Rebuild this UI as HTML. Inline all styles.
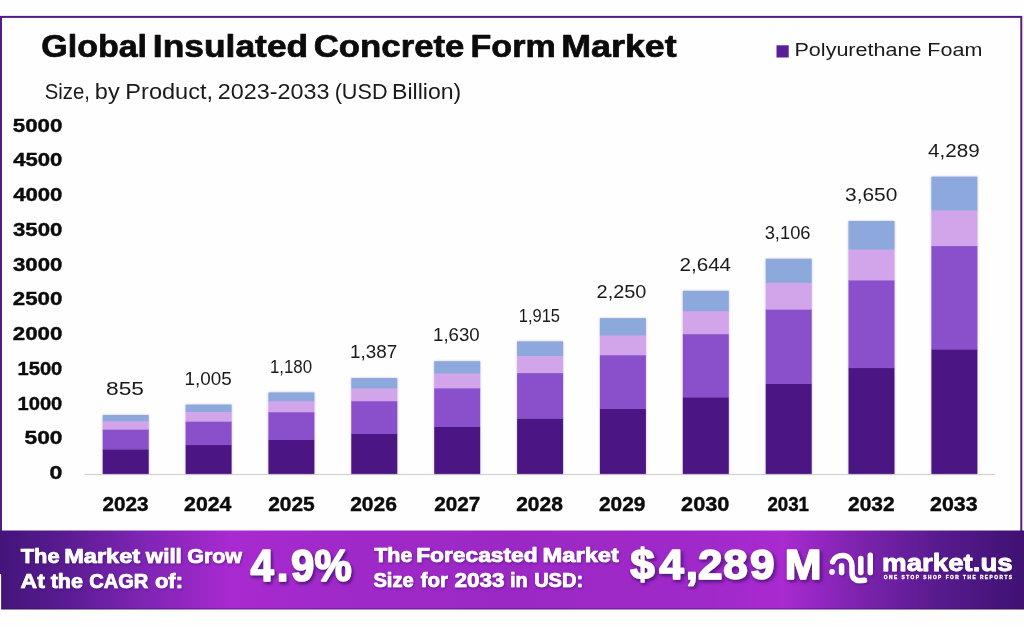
<!DOCTYPE html>
<html><head><meta charset="utf-8"><title>Global Insulated Concrete Form Market</title>
<style>
html,body{margin:0;padding:0;background:#fefefe;}
body{width:1024px;height:627px;overflow:hidden;}
svg{display:block;font-family:"Liberation Sans",sans-serif;}
text{white-space:pre;font-kerning:none;}
</style></head><body>
<svg width="1024" height="627" viewBox="0 0 1024 627">
<defs>
<linearGradient id="bg" x1="0" y1="0" x2="1" y2="0">
<stop offset="0" stop-color="#43147a"/>
<stop offset="0.06" stop-color="#581b90"/>
<stop offset="0.13" stop-color="#7a24b0"/>
<stop offset="0.225" stop-color="#a82ad0"/>
<stop offset="0.33" stop-color="#a029c9"/>
<stop offset="0.5" stop-color="#9b28c4"/>
<stop offset="0.68" stop-color="#a029c9"/>
<stop offset="0.765" stop-color="#a82ad0"/>
<stop offset="0.84" stop-color="#7c23ae"/>
<stop offset="0.92" stop-color="#561a8c"/>
<stop offset="1" stop-color="#3f1272"/>
</linearGradient>
<filter id="bsh" x="-5%" y="-5%" width="110%" height="110%"><feDropShadow dx="0" dy="0" stdDeviation="1.2" flood-color="#5a4a80" flood-opacity="0.35"/></filter>
<filter id="tsh" x="0" y="525" width="1024" height="90" filterUnits="userSpaceOnUse"><feDropShadow dx="0.8" dy="1.2" stdDeviation="1" flood-color="#3a0a66" flood-opacity="0.55"/></filter>
<filter id="tsh2" x="0" y="525" width="1024" height="90" filterUnits="userSpaceOnUse"><feDropShadow dx="1.6" dy="2.2" stdDeviation="1.8" flood-color="#3a0a66" flood-opacity="0.85"/></filter>
</defs>
<rect x="0" y="0" width="1024" height="627" fill="#fefefe"/>
<rect x="1" y="16.9" width="1020.3" height="560" fill="none" stroke="#521c84" stroke-width="2"/>
<text y="56.5" font-size="31" font-weight="700" fill="#0b0b0b" stroke="#0b0b0b" stroke-width="0.7" stroke-linejoin="round"><tspan x="41.26" textLength="105.80" lengthAdjust="spacingAndGlyphs">Global</tspan> <tspan x="152.88" textLength="155.30" lengthAdjust="spacingAndGlyphs">Insulated</tspan> <tspan x="313.72" textLength="150.71" lengthAdjust="spacingAndGlyphs">Concrete</tspan> <tspan x="470.57" textLength="85.09" lengthAdjust="spacingAndGlyphs">Form</tspan> <tspan x="561.25" textLength="115.43" lengthAdjust="spacingAndGlyphs">Market</tspan></text>
<text y="99.0" font-size="21.8" font-weight="400" fill="#1a1a1a"><tspan x="44.68" textLength="45.15" lengthAdjust="spacingAndGlyphs">Size,</tspan> <tspan x="94.88" textLength="24.86" lengthAdjust="spacingAndGlyphs">by</tspan> <tspan x="125.37" textLength="87.75" lengthAdjust="spacingAndGlyphs">Product,</tspan> <tspan x="217.83" textLength="111.70" lengthAdjust="spacingAndGlyphs">2023-2033</tspan> <tspan x="334.66" textLength="52.88" lengthAdjust="spacingAndGlyphs">(USD</tspan> <tspan x="392.11" textLength="69.12" lengthAdjust="spacingAndGlyphs">Billion)</tspan></text>
<rect x="776.5" y="45.3" width="12.2" height="12.2" fill="#5a1e96"/>
<text x="794.53" y="56.2" font-size="18.9" font-weight="400" fill="#1a1a1a" textLength="187.89" lengthAdjust="spacingAndGlyphs">Polyurethane Foam</text>
<text x="49.59" y="479.2" font-size="19" font-weight="700" fill="#0b0b0b" textLength="12.86" lengthAdjust="spacingAndGlyphs" stroke="#0b0b0b" stroke-width="0.4" stroke-linejoin="round">0</text>
<text x="24.50" y="444.4" font-size="19" font-weight="700" fill="#0b0b0b" textLength="37.93" lengthAdjust="spacingAndGlyphs" stroke="#0b0b0b" stroke-width="0.4" stroke-linejoin="round">500</text>
<text x="17.53" y="409.7" font-size="19" font-weight="700" fill="#0b0b0b" textLength="44.79" lengthAdjust="spacingAndGlyphs" stroke="#0b0b0b" stroke-width="0.4" stroke-linejoin="round">1000</text>
<text x="17.53" y="374.9" font-size="19" font-weight="700" fill="#0b0b0b" textLength="44.79" lengthAdjust="spacingAndGlyphs" stroke="#0b0b0b" stroke-width="0.4" stroke-linejoin="round">1500</text>
<text x="12.73" y="340.2" font-size="19" font-weight="700" fill="#0b0b0b" textLength="49.69" lengthAdjust="spacingAndGlyphs" stroke="#0b0b0b" stroke-width="0.4" stroke-linejoin="round">2000</text>
<text x="12.73" y="305.4" font-size="19" font-weight="700" fill="#0b0b0b" textLength="49.69" lengthAdjust="spacingAndGlyphs" stroke="#0b0b0b" stroke-width="0.4" stroke-linejoin="round">2500</text>
<text x="12.99" y="270.7" font-size="19" font-weight="700" fill="#0b0b0b" textLength="49.42" lengthAdjust="spacingAndGlyphs" stroke="#0b0b0b" stroke-width="0.4" stroke-linejoin="round">3000</text>
<text x="12.99" y="235.9" font-size="19" font-weight="700" fill="#0b0b0b" textLength="49.42" lengthAdjust="spacingAndGlyphs" stroke="#0b0b0b" stroke-width="0.4" stroke-linejoin="round">3500</text>
<text x="13.16" y="201.2" font-size="19" font-weight="700" fill="#0b0b0b" textLength="49.24" lengthAdjust="spacingAndGlyphs" stroke="#0b0b0b" stroke-width="0.4" stroke-linejoin="round">4000</text>
<text x="13.16" y="166.4" font-size="19" font-weight="700" fill="#0b0b0b" textLength="49.24" lengthAdjust="spacingAndGlyphs" stroke="#0b0b0b" stroke-width="0.4" stroke-linejoin="round">4500</text>
<text x="12.81" y="131.7" font-size="19" font-weight="700" fill="#0b0b0b" textLength="49.60" lengthAdjust="spacingAndGlyphs" stroke="#0b0b0b" stroke-width="0.4" stroke-linejoin="round">5000</text>
<rect x="84.5" y="473.9" width="910.5" height="1.2" fill="#d2d2d2"/>
<g filter="url(#bsh)">
<rect x="102.7" y="449.15" width="46.0" height="24.75" fill="#4c1884"/>
<rect x="102.7" y="429.21" width="46.0" height="20.24" fill="#8a4fcb"/>
<rect x="102.7" y="421.00" width="46.0" height="8.51" fill="#d2a5ea"/>
<rect x="102.7" y="414.96" width="46.0" height="6.34" fill="#8da8dc"/>
<rect x="185.6" y="444.79" width="46.0" height="29.11" fill="#4c1884"/>
<rect x="185.6" y="421.26" width="46.0" height="23.83" fill="#8a4fcb"/>
<rect x="185.6" y="411.73" width="46.0" height="9.83" fill="#d2a5ea"/>
<rect x="185.6" y="404.55" width="46.0" height="7.48" fill="#8da8dc"/>
<rect x="268.4" y="439.71" width="46.0" height="34.19" fill="#4c1884"/>
<rect x="268.4" y="411.98" width="46.0" height="28.04" fill="#8a4fcb"/>
<rect x="268.4" y="400.93" width="46.0" height="11.34" fill="#d2a5ea"/>
<rect x="268.4" y="392.41" width="46.0" height="8.83" fill="#8da8dc"/>
<rect x="351.3" y="433.70" width="46.0" height="40.20" fill="#4c1884"/>
<rect x="351.3" y="400.98" width="46.0" height="33.02" fill="#8a4fcb"/>
<rect x="351.3" y="388.17" width="46.0" height="13.10" fill="#d2a5ea"/>
<rect x="351.3" y="378.04" width="46.0" height="10.43" fill="#8da8dc"/>
<rect x="434.2" y="426.63" width="46.0" height="47.27" fill="#4c1884"/>
<rect x="434.2" y="388.05" width="46.0" height="38.88" fill="#8a4fcb"/>
<rect x="434.2" y="373.21" width="46.0" height="15.14" fill="#d2a5ea"/>
<rect x="434.2" y="361.18" width="46.0" height="12.33" fill="#8da8dc"/>
<rect x="517.1" y="418.34" width="46.0" height="55.56" fill="#4c1884"/>
<rect x="517.1" y="372.86" width="46.0" height="45.78" fill="#8a4fcb"/>
<rect x="517.1" y="355.68" width="46.0" height="17.49" fill="#d2a5ea"/>
<rect x="517.1" y="341.40" width="46.0" height="14.58" fill="#8da8dc"/>
<rect x="599.9" y="408.59" width="46.0" height="65.31" fill="#4c1884"/>
<rect x="599.9" y="354.99" width="46.0" height="53.90" fill="#8a4fcb"/>
<rect x="599.9" y="335.09" width="46.0" height="20.20" fill="#d2a5ea"/>
<rect x="599.9" y="318.15" width="46.0" height="17.24" fill="#8da8dc"/>
<rect x="682.8" y="397.12" width="46.0" height="76.78" fill="#4c1884"/>
<rect x="682.8" y="333.95" width="46.0" height="63.47" fill="#8a4fcb"/>
<rect x="682.8" y="310.91" width="46.0" height="23.33" fill="#d2a5ea"/>
<rect x="682.8" y="290.81" width="46.0" height="20.41" fill="#8da8dc"/>
<rect x="765.7" y="383.66" width="46.0" height="90.24" fill="#4c1884"/>
<rect x="765.7" y="309.23" width="46.0" height="74.73" fill="#8a4fcb"/>
<rect x="765.7" y="282.59" width="46.0" height="26.94" fill="#d2a5ea"/>
<rect x="765.7" y="258.74" width="46.0" height="24.15" fill="#8da8dc"/>
<rect x="848.5" y="367.81" width="46.0" height="106.09" fill="#4c1884"/>
<rect x="848.5" y="280.10" width="46.0" height="88.01" fill="#8a4fcb"/>
<rect x="848.5" y="249.28" width="46.0" height="31.12" fill="#d2a5ea"/>
<rect x="848.5" y="220.99" width="46.0" height="28.59" fill="#8da8dc"/>
<rect x="931.4" y="349.18" width="46.0" height="124.72" fill="#4c1884"/>
<rect x="931.4" y="245.83" width="46.0" height="103.64" fill="#8a4fcb"/>
<rect x="931.4" y="210.20" width="46.0" height="35.93" fill="#d2a5ea"/>
<rect x="931.4" y="176.64" width="46.0" height="33.86" fill="#8da8dc"/>
</g>
<text x="106.01" y="395.1" font-size="18.9" font-weight="400" fill="#1a1a1a" textLength="37.94" lengthAdjust="spacingAndGlyphs">855</text>
<text x="102.48" y="510.5" font-size="19.5" font-weight="700" fill="#0b0b0b" textLength="46.07" lengthAdjust="spacingAndGlyphs" stroke="#0b0b0b" stroke-width="0.4" stroke-linejoin="round">2023</text>
<text x="184.56" y="384.7" font-size="18.9" font-weight="400" fill="#1a1a1a" textLength="47.23" lengthAdjust="spacingAndGlyphs">1,005</text>
<text x="184.06" y="510.5" font-size="19.5" font-weight="700" fill="#0b0b0b" textLength="47.35" lengthAdjust="spacingAndGlyphs" stroke="#0b0b0b" stroke-width="0.4" stroke-linejoin="round">2024</text>
<text x="269.91" y="372.5" font-size="18.9" font-weight="400" fill="#1a1a1a" textLength="42.25" lengthAdjust="spacingAndGlyphs">1,180</text>
<text x="268.17" y="510.5" font-size="19.5" font-weight="700" fill="#0b0b0b" textLength="46.61" lengthAdjust="spacingAndGlyphs" stroke="#0b0b0b" stroke-width="0.4" stroke-linejoin="round">2025</text>
<text x="350.06" y="358.1" font-size="18.9" font-weight="400" fill="#1a1a1a" textLength="47.18" lengthAdjust="spacingAndGlyphs">1,387</text>
<text x="350.17" y="510.5" font-size="19.5" font-weight="700" fill="#0b0b0b" textLength="46.79" lengthAdjust="spacingAndGlyphs" stroke="#0b0b0b" stroke-width="0.4" stroke-linejoin="round">2026</text>
<text x="433.08" y="341.3" font-size="18.9" font-weight="400" fill="#1a1a1a" textLength="46.65" lengthAdjust="spacingAndGlyphs">1,630</text>
<text x="434.18" y="510.5" font-size="19.5" font-weight="700" fill="#0b0b0b" textLength="46.13" lengthAdjust="spacingAndGlyphs" stroke="#0b0b0b" stroke-width="0.4" stroke-linejoin="round">2027</text>
<text x="518.74" y="321.5" font-size="18.9" font-weight="400" fill="#1a1a1a" textLength="41.25" lengthAdjust="spacingAndGlyphs">1,915</text>
<text x="516.17" y="510.5" font-size="19.5" font-weight="700" fill="#0b0b0b" textLength="46.67" lengthAdjust="spacingAndGlyphs" stroke="#0b0b0b" stroke-width="0.4" stroke-linejoin="round">2028</text>
<text x="596.60" y="298.2" font-size="18.9" font-weight="400" fill="#1a1a1a" textLength="49.78" lengthAdjust="spacingAndGlyphs">2,250</text>
<text x="598.98" y="510.5" font-size="19.5" font-weight="700" fill="#0b0b0b" textLength="46.40" lengthAdjust="spacingAndGlyphs" stroke="#0b0b0b" stroke-width="0.4" stroke-linejoin="round">2029</text>
<text x="679.46" y="270.9" font-size="18.9" font-weight="400" fill="#1a1a1a" textLength="51.64" lengthAdjust="spacingAndGlyphs">2,644</text>
<text x="681.05" y="510.5" font-size="19.5" font-weight="700" fill="#0b0b0b" textLength="48.34" lengthAdjust="spacingAndGlyphs" stroke="#0b0b0b" stroke-width="0.4" stroke-linejoin="round">2030</text>
<text x="764.70" y="238.8" font-size="18.9" font-weight="400" fill="#1a1a1a" textLength="45.80" lengthAdjust="spacingAndGlyphs">3,106</text>
<text x="767.45" y="510.5" font-size="19.5" font-weight="700" fill="#0b0b0b" textLength="41.57" lengthAdjust="spacingAndGlyphs" stroke="#0b0b0b" stroke-width="0.4" stroke-linejoin="round">2031</text>
<text x="845.00" y="201.1" font-size="18.9" font-weight="400" fill="#1a1a1a" textLength="52.42" lengthAdjust="spacingAndGlyphs">3,650</text>
<text x="848.07" y="510.5" font-size="19.5" font-weight="700" fill="#0b0b0b" textLength="46.56" lengthAdjust="spacingAndGlyphs" stroke="#0b0b0b" stroke-width="0.4" stroke-linejoin="round">2032</text>
<text x="928.13" y="156.7" font-size="18.9" font-weight="400" fill="#1a1a1a" textLength="51.55" lengthAdjust="spacingAndGlyphs">4,289</text>
<text x="930.06" y="510.5" font-size="19.5" font-weight="700" fill="#0b0b0b" textLength="47.51" lengthAdjust="spacingAndGlyphs" stroke="#0b0b0b" stroke-width="0.4" stroke-linejoin="round">2033</text>
<rect x="0" y="530.5" width="1024" height="78.9" fill="url(#bg)"/>
<rect x="0" y="608.3" width="1024" height="1.1" fill="#2c0a55" fill-opacity="0.45"/>
<rect x="0" y="574" width="1.1" height="36" fill="#fefefe"/>
<text y="562.7" font-size="19.6" font-weight="700" fill="#ffffff" stroke="#ffffff" stroke-width="0.7" stroke-linejoin="round" filter="url(#tsh)"><tspan x="20.80" textLength="38.79" lengthAdjust="spacingAndGlyphs">The</tspan> <tspan x="64.17" textLength="75.96" lengthAdjust="spacingAndGlyphs">Market</tspan> <tspan x="145.82" textLength="36.02" lengthAdjust="spacingAndGlyphs">will</tspan> <tspan x="187.17" textLength="54.94" lengthAdjust="spacingAndGlyphs">Grow</tspan></text>
<text y="587.6" font-size="19.6" font-weight="700" fill="#ffffff" stroke="#ffffff" stroke-width="0.7" stroke-linejoin="round" filter="url(#tsh)"><tspan x="20.58" textLength="24.36" lengthAdjust="spacingAndGlyphs">At</tspan> <tspan x="50.69" textLength="32.30" lengthAdjust="spacingAndGlyphs">the</tspan> <tspan x="89.23" textLength="59.14" lengthAdjust="spacingAndGlyphs">CAGR</tspan> <tspan x="154.99" textLength="27.96" lengthAdjust="spacingAndGlyphs">of:</tspan></text>
<text transform="scale(0.9516,1)" x="263.30 290.83 305.70 330.51" y="581.3" font-size="44" font-weight="700" fill="#ffffff" stroke="#ffffff" stroke-width="1.6" stroke-linejoin="round" filter="url(#tsh2)">4.9%</text>
<text y="561.9" font-size="19.6" font-weight="700" fill="#ffffff" stroke="#ffffff" stroke-width="0.7" stroke-linejoin="round" filter="url(#tsh)"><tspan x="374.31" textLength="38.07" lengthAdjust="spacingAndGlyphs">The</tspan> <tspan x="416.23" textLength="121.32" lengthAdjust="spacingAndGlyphs">Forecasted</tspan> <tspan x="542.57" textLength="76.37" lengthAdjust="spacingAndGlyphs">Market</tspan></text>
<text y="586.8" font-size="19.6" font-weight="700" fill="#ffffff" stroke="#ffffff" stroke-width="0.7" stroke-linejoin="round" filter="url(#tsh)"><tspan x="373.47" textLength="40.16" lengthAdjust="spacingAndGlyphs">Size</tspan> <tspan x="420.70" textLength="27.26" lengthAdjust="spacingAndGlyphs">for</tspan> <tspan x="454.47" textLength="49.99" lengthAdjust="spacingAndGlyphs">2033</tspan> <tspan x="509.96" textLength="17.73" lengthAdjust="spacingAndGlyphs">in</tspan> <tspan x="534.15" textLength="48.93" lengthAdjust="spacingAndGlyphs">USD:</tspan></text>
<text transform="scale(1.0482,1)" x="601.33 628.96 654.16 665.81 690.10 715.55 738.91 748.65" y="578.7" font-size="42" font-weight="700" fill="#ffffff" stroke="#ffffff" stroke-width="1.6" stroke-linejoin="round" filter="url(#tsh2)">$4,289 M</text>
<g fill="none" stroke="#fff" stroke-width="5.4" stroke-linecap="round" stroke-linejoin="round" filter="url(#tsh)">
<path d="M832.6 561.8 C834 557.5 838.5 555.4 843 555.5 C849 555.8 852 560.5 852 566 L852 572.5 C852 578 855 580.6 859.5 580.6 L864.5 580.2"/>
<path d="M841.6 565.6 V572.6"/>
<path d="M860.8 558.4 V572.6"/>
<path d="M870.3 555.2 V572.6"/>
</g>
<circle cx="832" cy="571.9" r="2.8" fill="#fff"/>
<text x="882.08" y="570.6" font-size="23.6" font-weight="700" fill="#ffffff" textLength="130.66" lengthAdjust="spacingAndGlyphs" filter="url(#tsh)" stroke="#ffffff" stroke-width="0.8" stroke-linejoin="round">market.us</text>
<text x="883.78" y="579.4" font-size="4.8" font-weight="700" fill="#ffffff" textLength="128.23" lengthAdjust="spacing" stroke="#ffffff" stroke-width="0.35" stroke-linejoin="round">ONE STOP SHOP FOR THE REPORTS</text>
</svg>
</body></html>
